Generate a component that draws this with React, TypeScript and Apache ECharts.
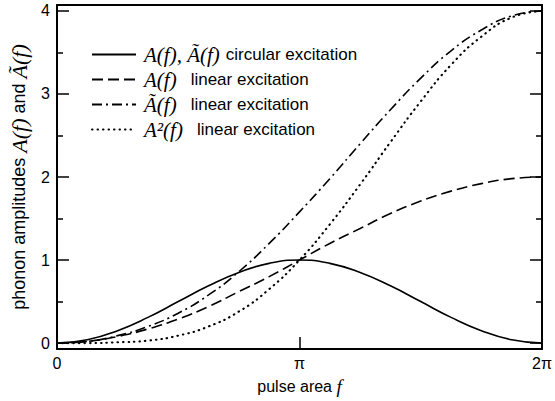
import React, { useEffect, useRef } from "react";
import * as echarts from "echarts";

// sample positions in units of pi
const fOverPi = [0, 0.125, 0.25, 0.375, 0.5, 0.625, 0.75, 0.875, 1, 1.125, 1.25, 1.375, 1.5, 1.625, 1.75, 1.875, 2];
// A(f), Ã(f) circular excitation
const circular = [0, 0.04, 0.15, 0.31, 0.5, 0.69, 0.85, 0.96, 1.0, 0.96, 0.85, 0.69, 0.5, 0.31, 0.15, 0.04, 0];
// A(f) linear excitation
const linearA = [0, 0.02, 0.08, 0.17, 0.29, 0.44, 0.62, 0.8, 1.0, 1.2, 1.38, 1.56, 1.71, 1.83, 1.92, 1.98, 2.0];
// Ã(f) linear excitation
const linearAt = [0, 0.02, 0.09, 0.2, 0.36, 0.58, 0.86, 1.2, 1.58, 1.98, 2.4, 2.81, 3.19, 3.52, 3.77, 3.94, 4.0];
// A²(f) linear excitation
const linearA2 = [0, 0.0, 0.01, 0.03, 0.09, 0.2, 0.38, 0.65, 1.0, 1.43, 1.91, 2.42, 2.91, 3.35, 3.69, 3.92, 4.0];

const xTickPi = [0, 1, 2];
const xTickLabels = ["0", "π", "2π"];
const yMajor = [0, 1, 2, 3, 4];
const yMinor = [0.5, 1.5, 2.5, 3.5];

const seriesNames = ["circ", "linA", "linAt", "linA2"];
const legendTexts: Record<string, string> = {
  circ: "{m|A(f), Ã(f)}{g| }{t|circular excitation}",
  linA: "{m|A(f)}{w| }{t|linear excitation}",
  linAt: "{m|Ã(f)}{w| }{t|linear excitation}",
  linA2: "{m|A²(f)}{w| }{t|linear excitation}",
};

export default function App() {
  const ref = useRef<HTMLDivElement>(null);
  useEffect(() => {
    document.body.style.margin = "0";
    const chart = echarts.init(ref.current!, null, { renderer: "svg" });
    const PI = Math.PI;
    const serif = "'Liberation Serif', 'DejaVu Serif', serif";
    const sans = "'Liberation Sans', Arial, sans-serif";
    const yMin = -0.071;
    const yMax = 4.071;
    const pts = (vals: number[]) => vals.map((v, i) => [fOverPi[i] * PI, v]);
    const xTicks = xTickPi.map((v) => v * PI);

    const yAxisDef = (
      position: string,
      ticks: number[],
      len: number,
      showLine: boolean,
      showLabel: boolean,
      extra: any = {}
    ) => ({
      type: "value",
      position,
      min: yMin,
      max: yMax,
      axisLine: { show: showLine, lineStyle: { color: "#000", width: 2 } },
      axisTick: {
        show: true,
        inside: true,
        length: len,
        customValues: ticks,
        lineStyle: { color: "#000", width: 1.5 },
      },
      axisLabel: {
        show: showLabel,
        customValues: yMajor,
        color: "#000",
        fontFamily: sans,
        fontSize: 16,
        margin: 7,
        formatter: (v: number) => String(Math.round(v)),
      },
      splitLine: { show: false },
      ...extra,
    });

    const lineSeries = (name: string, data: number[], type: any, extraStyle: any = {}) => ({
      name,
      type: "line",
      data: pts(data),
      smooth: 0.5,
      symbol: "none",
      showSymbol: false,
      lineStyle: { color: "#000", width: 1.6, type, ...extraStyle },
      itemStyle: { color: "#000" },
    });

    chart.setOption({
      animation: false,
      backgroundColor: "#fff",
      grid: { left: 57, right: 13, top: 5, bottom: 47, containLabel: false },
      legend: {
        orient: "vertical",
        left: 91,
        top: 44,
        padding: 0,
        itemWidth: 44,
        itemHeight: 14,
        itemGap: 4,
        data: seriesNames,
        itemStyle: { opacity: 0, borderWidth: 0 },
        formatter: (name: string) => legendTexts[name],
        textStyle: {
          color: "#000",
          padding: [0, 0, 0, 3],
          rich: {
            m: { fontFamily: serif, fontStyle: "italic", fontSize: 21, color: "#000" },
            t: { fontFamily: sans, fontSize: 17, color: "#000" },
            g: { fontFamily: sans, fontSize: 17, width: 6 },
            w: { fontFamily: sans, fontSize: 17, width: 14 },
          },
        },
      },
      xAxis: [
        {
          type: "value",
          position: "bottom",
          min: 0,
          max: 2 * PI,
          axisLine: { show: true, onZero: false, lineStyle: { color: "#000", width: 2 } },
          axisTick: {
            show: true,
            inside: true,
            length: 12,
            customValues: xTicks,
            lineStyle: { color: "#000", width: 1.5 },
          },
          axisLabel: {
            customValues: xTicks,
            color: "#000",
            fontFamily: sans,
            fontSize: 16,
            margin: 6,
            formatter: (v: number) => xTickLabels[Math.round(v / PI)],
          },
          splitLine: { show: false },
          name: "{t|pulse area }{m|f}",
          nameLocation: "middle",
          nameGap: 28,
          nameTextStyle: {
            rich: {
              t: { fontFamily: sans, fontSize: 16, color: "#000" },
              m: { fontFamily: serif, fontStyle: "italic", fontSize: 19, color: "#000" },
            },
          },
        },
        {
          type: "value",
          position: "top",
          min: 0,
          max: 2 * PI,
          axisLine: { show: true, onZero: false, lineStyle: { color: "#000", width: 2 } },
          axisTick: { show: false },
          axisLabel: { show: false },
          splitLine: { show: false },
        },
      ],
      yAxis: [
        yAxisDef("left", yMajor, 12, true, true, {
          name: "{t|phonon amplitudes }{m|A(f)}{t| and }{m|Ã(f)}",
          nameLocation: "middle",
          nameGap: 27,
          nameTextStyle: {
            rich: {
              t: { fontFamily: sans, fontSize: 18, color: "#000" },
              m: { fontFamily: serif, fontStyle: "italic", fontSize: 22, color: "#000" },
            },
          },
        }),
        yAxisDef("left", yMinor, 6, false, false),
        yAxisDef("right", yMajor, 12, true, false),
        yAxisDef("right", yMinor, 6, false, false),
      ],
      series: [
        lineSeries("circ", circular, "solid"),
        lineSeries("linA", linearA, [11, 5]),
        lineSeries("linAt", linearAt, [10, 4, 2, 4]),
        lineSeries("linA2", linearA2, [0.5, 5], { cap: "round", width: 2.1 }),
      ],
    });
    return () => chart.dispose();
  }, []);
  return <div ref={ref} style={{ width: 555, height: 401 }} />;
}
